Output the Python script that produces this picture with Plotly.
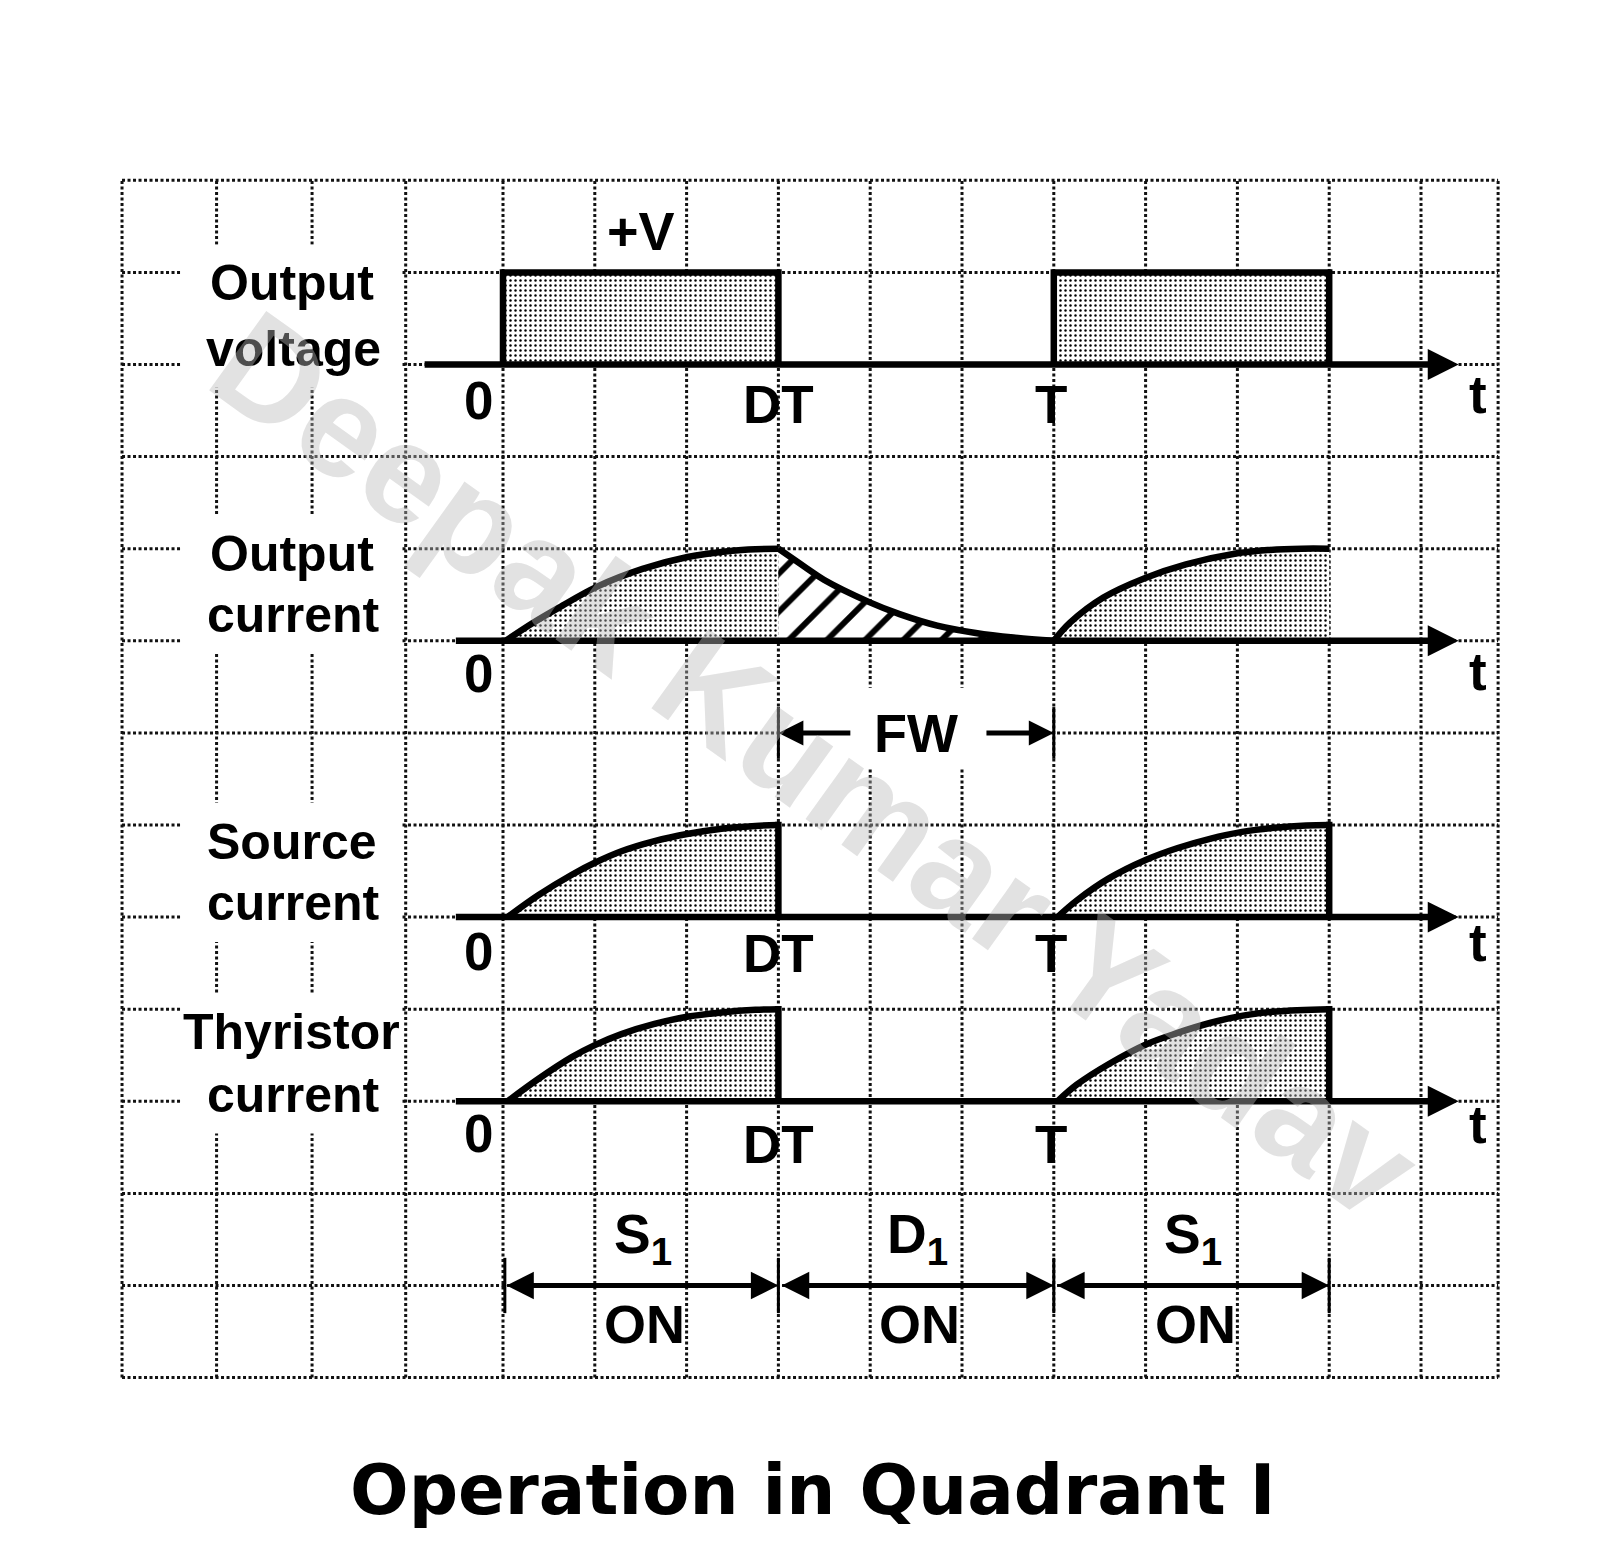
import plotly.graph_objects as go

# ---------------- data (time in grid cells: DT = 3 cells, T = 6 cells; amplitudes per unit) ----------------
tick_labels = ["0", "DT", "T"]
tick_times = [0, 3, 6]

# Output voltage pulses
vout_t1 = [0, 0, 3, 3]
vout_v1 = [0, 1, 1, 0]
vout_t2 = [6, 6, 9, 9]
vout_v2 = [0, 1, 1, 0]

# Output current
iout_on1_t = [0.03, 0.32, 0.61, 1.02, 1.52, 2.01, 2.47, 2.75, 3.0]
iout_on1_i = [0.0, 0.19, 0.36, 0.585, 0.78, 0.91, 0.975, 0.995, 1.0]
iout_fw_t = [3.0, 3.29, 3.5, 3.99, 4.32, 4.73, 5.15, 5.56, 6.0]
iout_fw_i = [1.0, 0.80, 0.66, 0.42, 0.29, 0.165, 0.085, 0.035, 0.0]
iout_on2_t = [6.0, 6.18, 6.54, 6.99, 7.44, 7.97, 8.33, 8.7, 9.0]
iout_on2_i = [0.0, 0.2, 0.47, 0.68, 0.83, 0.945, 0.985, 1.0, 1.0]

# Source current
isrc_on1_t = [0.05, 0.38, 0.75, 1.0, 1.29, 1.65, 2.02, 2.38, 2.75, 3.0]
isrc_on1_i = [0.0, 0.235, 0.46, 0.59, 0.715, 0.825, 0.905, 0.96, 0.99, 1.0]
isrc_on2_t = [6.04, 6.25, 6.6, 7.0, 7.35, 7.7, 8.05, 8.4, 8.75, 9.0]
isrc_on2_i = [0.0, 0.18, 0.42, 0.62, 0.75, 0.85, 0.925, 0.97, 0.995, 1.0]

# Thyristor current
ithy_on1_t = [0.05, 0.38, 0.75, 1.0, 1.29, 1.65, 2.02, 2.38, 2.75, 3.0]
ithy_on1_i = [0.0, 0.24, 0.48, 0.61, 0.73, 0.84, 0.92, 0.965, 0.993, 1.0]
ithy_on2_t = [6.04, 6.25, 6.61, 7.01, 7.34, 7.70, 8.06, 8.42, 9.0]
ithy_on2_i = [0.0, 0.18, 0.41, 0.62, 0.74, 0.85, 0.93, 0.975, 1.0]

# Conduction intervals
cond_labels = ["S<sub>1</sub>", "D<sub>1</sub>", "S<sub>1</sub>"]
cond_state = ["ON", "ON", "ON"]
cond_start = [0, 3, 6]
cond_end = [3, 6, 9]

row_titles = [("Output", "voltage"), ("Output", "current"), ("Source", "current"), ("Thyristor", "current")]
title_text = "Operation in Quadrant I"
watermark = "Deepak Kumar Yadav"

# ---------------- layout constants ----------------
W, H = 1600, 1563
PAGE_OFFSET = 8                      # default body margin of the html page
X0_PX, CELL_X = 503.0 - PAGE_OFFSET, 91.8
Y0_PX, CELL_Y = 1377.6 - PAGE_OFFSET, 92.1
x_range = [-X0_PX / CELL_X, (W - X0_PX) / CELL_X]
y_range = [-(H - Y0_PX) / CELL_Y, Y0_PX / CELL_Y]
GRID_X = [-4.15, -3.12, -2.08, -1.06] + list(range(0, 11)) + [10.84]
GRID_Y = list(range(0, 14))
GX0, GX1 = GRID_X[0], GRID_X[-1]
BASE = [11, 8, 5, 3]          # baselines of the four waveform rows
TITLE_DY = [(0.88, 0.17), (0.94, 0.28), (0.82, 0.15), (0.75, 0.07)]
AX_START = [-0.87, -0.53, -0.53, -0.53]
AX_END = 10.41
LW = 6.5
FONT = "Liberation Sans"

fig = go.Figure()
shapes = []

# grid
for gx in GRID_X:
    shapes.append(dict(type="line", xref="x", yref="y", x0=gx, x1=gx, y0=0, y1=13, layer="below",
                       line=dict(color="#111", width=3, dash="3px,2.5px")))
for gy in GRID_Y:
    shapes.append(dict(type="line", xref="x", yref="y", x0=GX0, x1=GX1, y0=gy, y1=gy, layer="below",
                       line=dict(color="#111", width=3, dash="3px,2.5px")))
# white masks behind the row titles and the FW label
for b, (d1, d2) in zip(BASE, TITLE_DY):
    shapes.append(dict(type="rect", xref="x", yref="y", x0=-3.5, x1=-1.11, y0=b + d2 - 0.42, y1=b + d1 + 0.42,
                       layer="below", fillcolor="white", line=dict(width=0)))
shapes.append(dict(type="rect", xref="x", yref="y", x0=tick_times[1] + 0.05, x1=tick_times[2] - 0.05,
                   y0=6.63, y1=7.49, layer="below", fillcolor="white", line=dict(width=0)))

stipple = dict(shape=".", fgcolor="black", bgcolor="white", size=5, solidity=0.19, fillmode="replace")
hatch = dict(shape="/", fgcolor="black", bgcolor="white", size=27, solidity=0.22, fillmode="replace")


def area(t, v, base, pattern, spline=True):
    fig.add_trace(go.Scatter(x=[t[0], t[-1]], y=[base, base], mode="lines", line=dict(width=0, color="white"),
                             hoverinfo="skip", showlegend=False))
    fig.add_trace(go.Scatter(x=t, y=[base + vi for vi in v], mode="lines",
                             line=dict(color="black", width=LW,
                                       shape="spline" if spline else "linear", smoothing=1.0),
                             fill="tonexty", fillcolor="white", fillpattern=pattern,
                             hoverinfo="skip", showlegend=False))


def drop(t, base):
    fig.add_trace(go.Scatter(x=[t, t], y=[base + 1.035, base], mode="lines", line=dict(color="black", width=LW),
                             hoverinfo="skip", showlegend=False))


# Output voltage
area(vout_t1, vout_v1, BASE[0], stipple, spline=False)
area(vout_t2, vout_v2, BASE[0], stipple, spline=False)
# Output current
area(iout_on1_t, iout_on1_i, BASE[1], stipple)
area(iout_fw_t, iout_fw_i, BASE[1], hatch)
area(iout_on2_t, iout_on2_i, BASE[1], stipple)
# Source current
area(isrc_on1_t, isrc_on1_i, BASE[2], stipple)
drop(isrc_on1_t[-1], BASE[2])
area(isrc_on2_t, isrc_on2_i, BASE[2], stipple)
drop(isrc_on2_t[-1], BASE[2])
# Thyristor current
area(ithy_on1_t, ithy_on1_i, BASE[3], stipple)
drop(ithy_on1_t[-1], BASE[3])
area(ithy_on2_t, ithy_on2_i, BASE[3], stipple)
drop(ithy_on2_t[-1], BASE[3])


def arrow(x0, y0, x1, y1, width, size, side="end"):
    fig.add_annotation(x=x1, y=y1, ax=x0, ay=y0, xref="x", yref="y", axref="x", ayref="y", text="",
                       showarrow=True, arrowhead=2, arrowsize=size, arrowwidth=width, arrowcolor="black",
                       arrowside=side, standoff=0, startstandoff=0, startarrowhead=2, startarrowsize=size)


def text(x, y, s, size=53, family=FONT, color="black", weight="bold"):
    fig.add_annotation(x=x, y=y, xref="x", yref="y", text=s, showarrow=False,
                       font=dict(family=family, size=size, color=color, weight=weight),
                       xanchor="center", yanchor="middle")


# time axes
T_DY = [-0.33, -0.33, -0.28, -0.25]
for b, xs, dy in zip(BASE, AX_START, T_DY):
    arrow(xs, b, AX_END, b, LW, 0.95)
    text(10.62, b + dy, "t", size=53)

# row titles
for b, (l1, l2), (d1, d2) in zip(BASE, row_titles, TITLE_DY):
    text(-2.3, b + d1, l1, size=50)
    text(-2.28, b + d2, l2, size=50)

# tick labels
ZERO_DY = [-0.39, -0.36, -0.37, -0.35]
TICK_DY = [-0.43, -0.40, -0.40, -0.47]
TICK_DX = [-0.27, 0.0, -0.03]
for r, b in enumerate(BASE):
    for lab, tt, dx in zip(tick_labels, tick_times, TICK_DX):
        if r == 1 and lab != "0":
            continue
        dy = ZERO_DY[r] if lab == "0" else TICK_DY[r]
        text(tt + dx, b + dy, lab, size=53)

text(1.5, 12.45, "+V", size=54)

# FW arrows
fw_y = 7.0
arrow(3.8, fw_y, tick_times[1], fw_y, 5, 1.0)
arrow(5.25, fw_y, tick_times[2], fw_y, 5, 1.0)
for tt in tick_times[1:]:
    shapes.append(dict(type="line", xref="x", yref="y", x0=tt, x1=tt, y0=6.72, y1=7.28,
                       line=dict(color="black", width=3)))
text(4.5, fw_y, "FW", size=54)

# conduction intervals
for lab, st, t0, t1 in zip(cond_labels, cond_state, cond_start, cond_end):
    arrow(t0 + 0.02, 1.0, t1, 1.0, 5, 1.1, side="end+start")
    text((t0 + t1) / 2 + 0.02, 1.52, lab, size=55)
    text((t0 + t1) / 2 + 0.04, 0.58, st, size=54)
for tt in sorted(set(cond_start + cond_end)):
    xt = tt + (0.02 if tt == 0 else 0)
    shapes.append(dict(type="line", xref="x", yref="y", x0=xt, x1=xt,
                       y0=0.7, y1=1.3, line=dict(color="black", width=3)))

# watermark
fig.add_annotation(x=3.41, y=6.65, xref="x", yref="y", text="<b>" + watermark + "</b>", showarrow=False,
                   textangle=35.7, font=dict(family=FONT, size=142, color="rgba(185,185,185,0.42)"))

# title
fig.add_annotation(x=3.38, y=-1.22, xref="x", yref="y", text="<b>" + title_text + "</b>", showarrow=False,
                   font=dict(family="DejaVu Sans", size=69, color="black"))

fig.update_layout(
    width=W, height=H, margin=dict(l=0, r=0, t=0, b=0),
    paper_bgcolor="white", plot_bgcolor="white", showlegend=False, shapes=shapes,
    xaxis=dict(range=x_range, visible=False, fixedrange=True),
    yaxis=dict(range=y_range, visible=False, fixedrange=True),
)
fig.write_html("out.html")
